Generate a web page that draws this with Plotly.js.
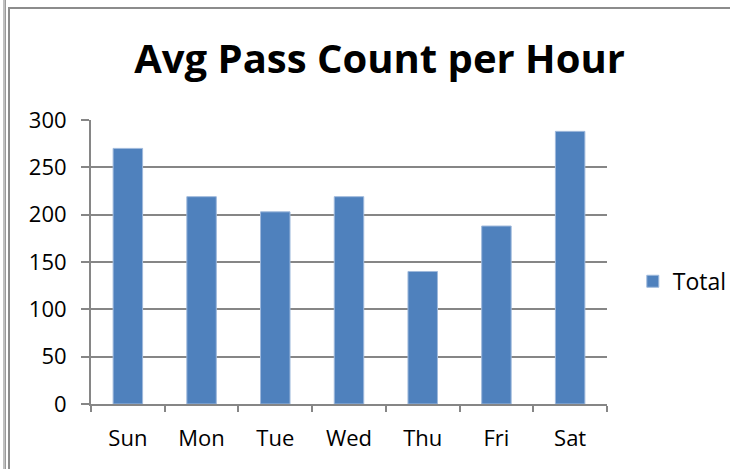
<!DOCTYPE html>
<html>
<head>
<meta charset="utf-8">
<script src="https://cdn.plot.ly/plotly-3.0.1.min.js"></script>
<style>
html,body{margin:0;padding:0;background:#fff;}
#chart{position:absolute;left:0;top:0;width:730px;height:469px;}
.ln{position:absolute;background:#8c8c8c;}
</style>
</head>
<body>
<div id="chart"></div>
<div class="ln" style="left:3px;top:0;width:2px;height:469px;background:#c0c0c0;"></div>
<div class="ln" style="left:5px;top:0;width:1px;height:469px;background:#9a9a9a;"></div>
<div class="ln" style="left:8px;top:7px;width:2px;height:462px;"></div>
<div class="ln" style="left:8px;top:7px;width:722px;height:2px;"></div>
<script>
const days = ["Sun", "Mon", "Tue", "Wed", "Thu", "Fri", "Sat"];
const totals = [270, 219, 203, 219, 140, 188, 288];
const yTicks = [0, 50, 100, 150, 200, 250, 300];

const font = "Open Sans, Noto Sans, sans-serif";
Plotly.newPlot("chart", [{
  type: "bar",
  x: days,
  y: totals,
  name: "Total",
  marker: {color: "#4F81BD", line: {color: "#9fb9dc", width: 1}}
}], {
  width: 730, height: 469,
  margin: {l: 91, r: 123, t: 119.5, b: 65, pad: 0, autoexpand: false},
  paper_bgcolor: "#fff", plot_bgcolor: "#fff",
  bargap: 0.6,
  showlegend: true,
  title: {text: "Avg Pass Count per Hour", font: {family: font, size: 40, color: "#000", weight: "bold"}, x: 0.52, xanchor: "center", y: 0.875, yanchor: "middle"},
  legend: {x: 1.05, xanchor: "left", y: 0.432, yanchor: "middle", font: {family: font, size: 23, color: "#000"}, bgcolor: "rgba(0,0,0,0)", itemwidth: 30},
  xaxis: {
    type: "category", tickson: "boundaries", ticks: "outside", ticklen: 6, tickcolor: "#868686", tickwidth: 2,
    showline: true, linecolor: "#868686", linewidth: 2, showgrid: false,
    ticklabelstandoff: 14, automargin: false,
    tickfont: {family: font, size: 22, color: "#000"}, fixedrange: true
  },
  yaxis: {
    range: [0, 300], tickvals: yTicks, ticktext: yTicks.map(String),
    ticks: "outside", ticklen: 8, tickcolor: "#868686", tickwidth: 2,
    showline: true, linecolor: "#868686", linewidth: 2,
    showgrid: true, gridcolor: "#868686", gridwidth: 2, zeroline: false,
    ticklabelstandoff: 10, automargin: false,
    tickfont: {family: font, size: 22, color: "#000"}, fixedrange: true
  }
}, {displayModeBar: false, staticPlot: true});
</script>
</body>
</html>
